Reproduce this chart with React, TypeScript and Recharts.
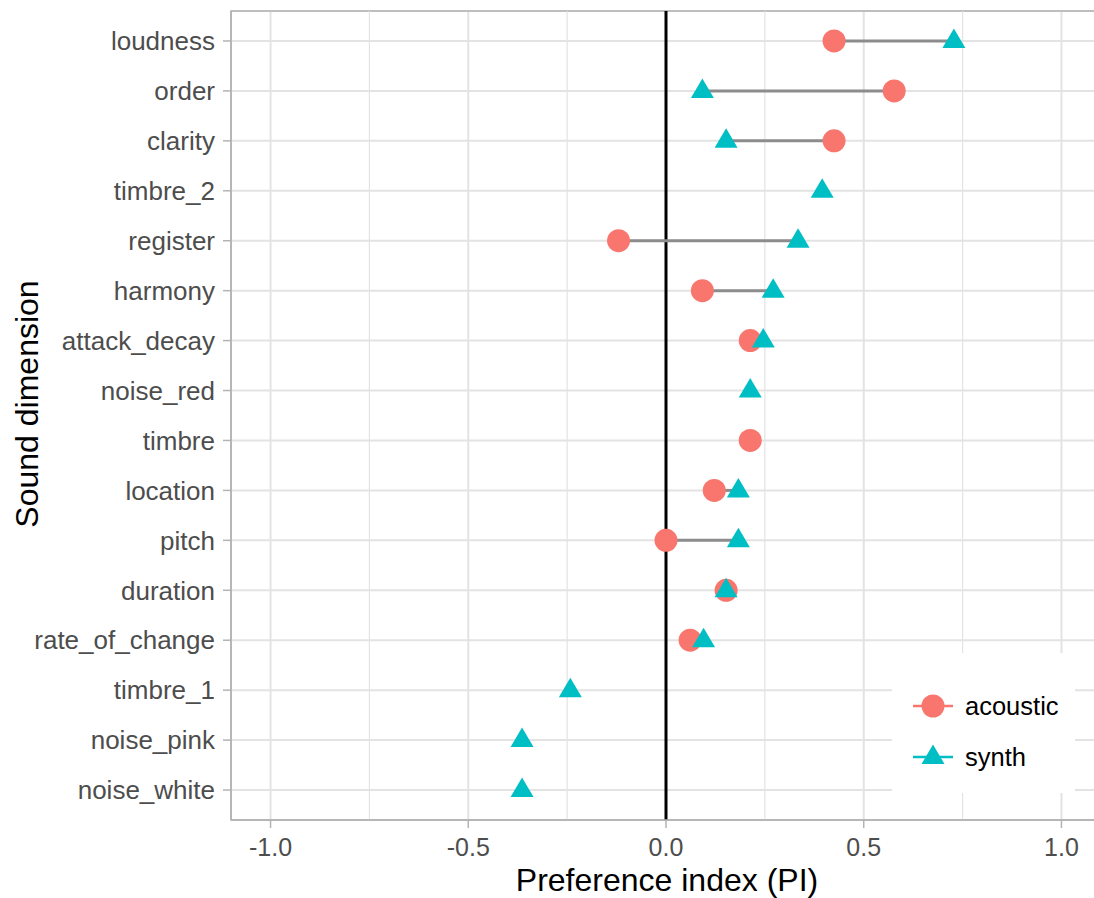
import {
  ScatterChart,
  Scatter,
  XAxis,
  YAxis,
  CartesianGrid,
  ReferenceLine,
  ReferenceArea,
  Legend,
} from "recharts"

// sound dimensions, top to bottom
const dimensions = [
  "loudness",
  "order",
  "clarity",
  "timbre_2",
  "register",
  "harmony",
  "attack_decay",
  "noise_red",
  "timbre",
  "location",
  "pitch",
  "duration",
  "rate_of_change",
  "timbre_1",
  "noise_pink",
  "noise_white",
]

// preference index per dimension (null = no point)
const acousticPI = [0.425, 0.577, 0.425, null, -0.12, 0.092, 0.213, null, 0.213, 0.122, 0.0, 0.152, 0.061, null, null, null]
const synthPI = [0.728, 0.092, 0.152, 0.395, 0.334, 0.271, 0.246, 0.213, null, 0.183, 0.183, 0.152, 0.095, -0.242, -0.364, -0.364]

const xTicks = [-1, -0.5, 0, 0.5, 1]
const xMinor = [-0.75, -0.25, 0.25, 0.75]
const yTicks = dimensions.map((_, i) => i + 1)

const ACOUSTIC = "#F8766D"
const SYNTH = "#00BFC4"
const GRID = "#e3e3e3"
const BORDER = "#b3b3b3"
const FONT = "'Liberation Sans', Arial, sans-serif"

const acousticData = acousticPI
  .map((v, i) => ({ x: v, y: i + 1 }))
  .filter((d) => d.x !== null)
const synthData = synthPI
  .map((v, i) => ({ x: v, y: i + 1 }))
  .filter((d) => d.x !== null)

// segments between the two points of a dimension
const segments = dimensions
  .map((_, i) => ({ a: acousticPI[i], s: synthPI[i], y: i + 1 }))
  .filter((d) => d.a !== null && d.s !== null)

const Circle = (props: any) => <circle cx={props.cx} cy={props.cy} r={11.5} fill={ACOUSTIC} />

const Triangle = (props: any) => {
  const { cx, cy } = props
  const pts = `${cx},${cy - 12.5} ${cx - 11.5},${cy + 7} ${cx + 11.5},${cy + 7}`
  return <polygon points={pts} fill={SYNTH} />
}

const LegendBox = () => (
  <div style={{ width: 183, height: 140, background: "#fff", fontFamily: FONT }}>
    <svg width={183} height={140}>
      <line x1={21} x2={61} y1={53} y2={53} stroke={ACOUSTIC} strokeWidth={2.5} />
      <circle cx={41} cy={53} r={11.5} fill={ACOUSTIC} />
      <text x={73} y={53} dy="0.355em" fontSize={25.5} fill="#000">
        acoustic
      </text>
      <line x1={21} x2={61} y1={104} y2={104} stroke={SYNTH} strokeWidth={2.5} />
      <polygon points="41,91.5 29.5,111 52.5,111" fill={SYNTH} />
      <text x={73} y={104} dy="0.355em" fontSize={25.5} fill="#000">
        synth
      </text>
    </svg>
  </div>
)

export default function App() {
  return (
    <div style={{ position: "fixed", left: 0, top: 0, width: 1094, height: 898, overflow: "hidden", background: "#fff" }}>
      <ScatterChart width={1101} height={898} margin={{ top: 11, right: 0, bottom: 0, left: 0 }}>
        <CartesianGrid stroke={GRID} strokeWidth={2} />
        {xMinor.map((v) => (
          <ReferenceLine key={v} x={v} stroke={GRID} strokeWidth={1.2} />
        ))}
        <ReferenceArea x1={-1.1} x2={1.1} y1={0.4} y2={16.6} fill="none" stroke={BORDER} strokeWidth={1.5} />
        <XAxis
          type="number"
          dataKey="x"
          domain={[-1.1, 1.1]}
          ticks={xTicks}
          tickFormatter={(v: number) => v.toFixed(1)}
          allowDataOverflow
          height={78}
          axisLine={{ stroke: BORDER, strokeWidth: 1.5 }}
          tickLine={{ stroke: BORDER, strokeWidth: 1.5 }}
          tickSize={8}
          tickMargin={10}
          tick={{ fontSize: 25, fill: "#4d4d4d", fontFamily: FONT }}
          label={(p: any) => {
            const vb = p.viewBox
            return (
              <text x={667} y={vb.y + 71} textAnchor="middle" fontSize={32} fill="#000" fontFamily={FONT}>
                Preference index (PI)
              </text>
            )
          }}
        />
        <YAxis
          type="number"
          dataKey="y"
          domain={[0.4, 16.6]}
          ticks={yTicks}
          reversed
          interval={0}
          tickFormatter={(v: number) => dimensions[v - 1] ?? ""}
          width={231}
          axisLine={{ stroke: BORDER, strokeWidth: 1.5 }}
          tickLine={{ stroke: BORDER, strokeWidth: 1.5 }}
          tickSize={8}
          tickMargin={8}
          tick={{ fontSize: 26, fill: "#4d4d4d", fontFamily: FONT }}
          label={() => (
            <text
              x={38}
              y={404}
              transform="rotate(-90 38 404)"
              textAnchor="middle"
              fontSize={32}
              fill="#000"
              fontFamily={FONT}
            >
              Sound dimension
            </text>
          )}
        />
        <ReferenceLine x={0} stroke="#000" strokeWidth={3} />
        {segments.map((d) => (
          <ReferenceLine
            key={d.y}
            segment={[
              { x: d.a, y: d.y },
              { x: d.s, y: d.y },
            ]}
            stroke="#8c8c8c"
            strokeWidth={3}
          />
        ))}
        <Scatter name="acoustic" data={acousticData} shape={Circle} isAnimationActive={false} />
        <Scatter name="synth" data={synthData} shape={Triangle} isAnimationActive={false} />
        <Legend
          layout="vertical"
          align="center"
          verticalAlign="middle"
          content={() => <LegendBox />}
          wrapperStyle={{ position: "absolute", left: 892, top: 653, width: 183, height: 140 }}
        />
      </ScatterChart>
    </div>
  )
}
